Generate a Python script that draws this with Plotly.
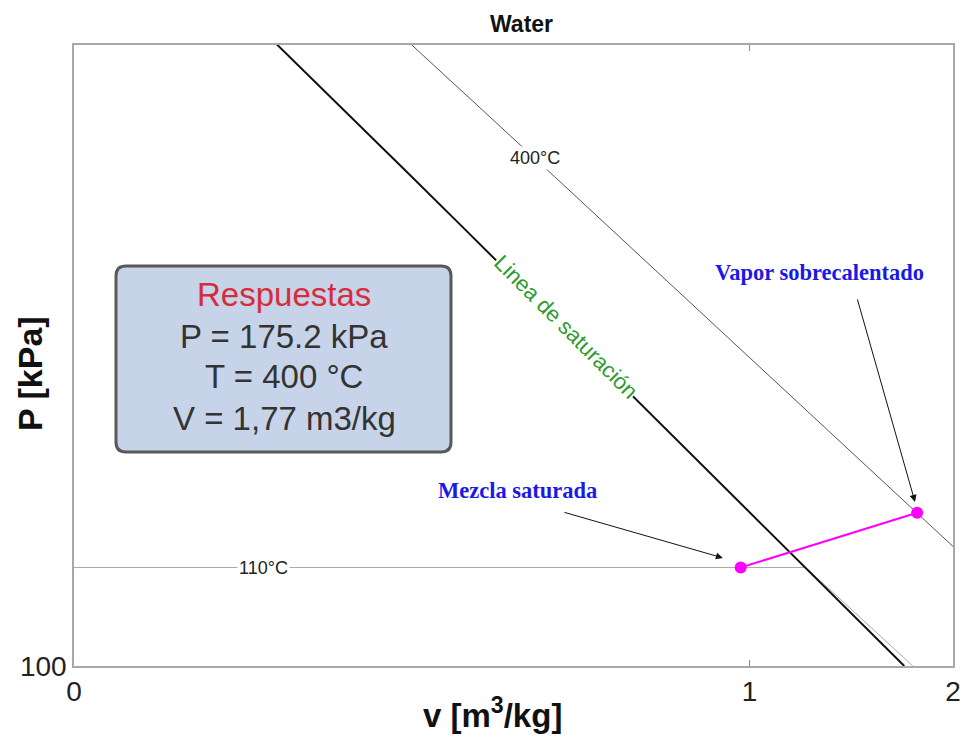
import numpy as np
import plotly.graph_objects as go

# ---------------- data ----------------
# Saturated vapour line (P in kPa, vg in m3/kg)
sat_P = [100, 125, 150, 175, 200, 250, 300, 350, 400, 450, 500, 600, 700, 800, 900, 1000]
sat_vg = [1.6941, 1.3750, 1.1594, 1.0037, 0.88578, 0.71873, 0.60582, 0.52422,
          0.46242, 0.41392, 0.37483, 0.31560, 0.27278, 0.24035, 0.21489, 0.19436]

# 400 °C isotherm
iso400_P = [100, 200, 300, 400, 500, 600, 800, 1000]
iso400_v = [3.1027, 1.5493, 1.0315, 0.77265, 0.61731, 0.51374, 0.38429, 0.30661]

# 110 °C isotherm
iso110_P = [143.38, 143.38, 125, 100]
iso110_v = [0.001052, 1.2102, 1.392, 1.744]

# Process states (mezcla -> vapor sobrecalentado)
state_v = [0.97, 1.77]
state_P = [143.38, 175.2]

x_tickvals = [0.1, 1, 2]
x_ticktext = ["0", "1", "2"]
y_tickvals = [100]
y_ticktext = ["100"]

box_lines = ["Respuestas", "P = 175.2 kPa", "T = 400 °C", "V = 1,77 m3/kg"]

# ---------------- figure ----------------
W, H = 964, 738
ML, MR, MT, MB = 74, 11, 45, 72
PW, PH = W - ML - MR, H - MT - MB

def px_to_paper(px, py):
    return (px - ML) / PW, (H - MB - py) / PH

fig = go.Figure()

fig.add_trace(go.Scatter(x=iso110_v, y=iso110_P, mode="lines",
                         line=dict(color="#a9a9a9", width=1), hoverinfo="skip"))
fig.add_trace(go.Scatter(x=iso400_v, y=iso400_P, mode="lines",
                         line=dict(color="#555555", width=1), hoverinfo="skip"))
fig.add_trace(go.Scatter(x=sat_vg, y=sat_P, mode="lines",
                         line=dict(color="#111111", width=2), hoverinfo="skip"))
fig.add_trace(go.Scatter(x=state_v, y=state_P, mode="lines+markers",
                         line=dict(color="#ff00ff", width=2),
                         marker=dict(color="#ff00ff", size=12), hoverinfo="skip"))

ann = []
lg = np.log10

# isotherm labels
ann.append(dict(x=lg(0.481), y=lg(642), text="400°C", showarrow=False,
                xanchor="center", yanchor="middle",
                font=dict(family="Liberation Sans, Arial", size=18, color="#222"),
                bgcolor="white", borderpad=1))
ann.append(dict(x=lg(0.191), y=lg(143.38), text="110°C", showarrow=False,
                xanchor="center", yanchor="middle",
                font=dict(family="Liberation Sans, Arial", size=18, color="#222"),
                bgcolor="white", borderpad=1))
# saturation line label
ann.append(dict(x=lg(0.534), y=lg(346), text="Linea de saturación", showarrow=False,
                textangle=45, xanchor="center", yanchor="middle",
                font=dict(family="Liberation Sans, Arial", size=22, color="#2e9b2e"),
                bgcolor="white", borderpad=0))
# state labels
ann.append(dict(x=lg(0.454), y=lg(189.8), text="<b>Mezcla saturada</b>", showarrow=False,
                xanchor="center", yanchor="middle",
                font=dict(family="Liberation Serif, Times New Roman", size=22.5, color="#1a1ae6")))
ann.append(dict(x=lg(1.271), y=lg(421.5), text="<b>Vapor sobrecalentado</b>", showarrow=False,
                xanchor="center", yanchor="middle",
                font=dict(family="Liberation Serif, Times New Roman", size=22.5, color="#1a1ae6")))
# arrows
ann.append(dict(x=lg(0.913), y=lg(148.5), text="", showarrow=True, ax=-160, ay=-46,
                arrowhead=2, arrowsize=1.4, arrowwidth=1, arrowcolor="#111", standoff=0))
ann.append(dict(x=lg(1.757), y=lg(182.3), text="", showarrow=True, ax=-58, ay=-204,
                arrowhead=2, arrowsize=1.4, arrowwidth=1, arrowcolor="#111", standoff=0))

# answer box text
box_y = [294, 336, 377, 418]
box_colors = ["#d62d3b", "#333333", "#333333", "#333333"]
for t, py, c in zip(box_lines, box_y, box_colors):
    xp, yp = px_to_paper(284, py)
    ann.append(dict(xref="paper", yref="paper", x=xp, y=yp, text=t, showarrow=False,
                    xanchor="center", yanchor="middle",
                    font=dict(family="Liberation Sans, Arial", size=33, color=c)))

# title and axis titles
xp, yp = px_to_paper(521, 24)
ann.append(dict(xref="paper", yref="paper", x=xp, y=yp, text="<b>Water</b>", showarrow=False,
                xanchor="center", yanchor="middle",
                font=dict(family="Liberation Sans, Arial", size=23, color="#111")))
xp, yp = px_to_paper(492, 736)
ann.append(dict(xref="paper", yref="paper", x=xp, y=yp, text="<b>v [m<sup>3</sup>/kg]</b>",
                showarrow=False, xanchor="center", yanchor="bottom",
                font=dict(family="Liberation Sans, Arial", size=33, color="#111")))
xp, yp = px_to_paper(30, 374)
ann.append(dict(xref="paper", yref="paper", x=xp, y=yp, text="<b>P [kPa]</b>", showarrow=False,
                textangle=-90, xanchor="center", yanchor="middle",
                font=dict(family="Liberation Sans, Arial", size=34, color="#111")))

# rounded box shape
def rounded_path(x0, y0, x1, y1, r):
    def P(px, py):
        a, b = px_to_paper(px, py)
        return f"{a:.5f},{b:.5f}"
    return (f"M {P(x0 + r, y0)} L {P(x1 - r, y0)} Q {P(x1, y0)} {P(x1, y0 + r)} "
            f"L {P(x1, y1 - r)} Q {P(x1, y1)} {P(x1 - r, y1)} "
            f"L {P(x0 + r, y1)} Q {P(x0, y1)} {P(x0, y1 - r)} "
            f"L {P(x0, y0 + r)} Q {P(x0, y0)} {P(x0 + r, y0)} Z")

shapes = [dict(type="path", xref="paper", yref="paper",
               path=rounded_path(116, 266, 451, 452, 10),
               fillcolor="#c6d3e8", line=dict(color="#595959", width=3), layer="above")]

axis_common = dict(showgrid=False, zeroline=False, showline=True, linecolor="#a8a8a8",
                   linewidth=1.5, mirror="ticks", ticks="inside", ticklen=6,
                   tickcolor="#888", automargin=False,
                   tickfont=dict(family="Liberation Sans, Arial", size=28, color="#222"))

fig.update_layout(
    width=W, height=H,
    margin=dict(l=ML, r=MR, t=MT, b=MB),
    paper_bgcolor="white", plot_bgcolor="white",
    showlegend=False,
    annotations=ann,
    shapes=shapes,
    xaxis=dict(type="log", range=[-1, lg(2)], tickvals=x_tickvals, ticktext=x_ticktext,
               **axis_common),
    yaxis=dict(type="log", range=[2, lg(970)], tickvals=y_tickvals, ticktext=y_ticktext,
               **axis_common),
)

fig.write_html("out.html", config={"displayModeBar": False},
               post_script="document.body.style.margin='0px';document.body.style.overflow='hidden';")
